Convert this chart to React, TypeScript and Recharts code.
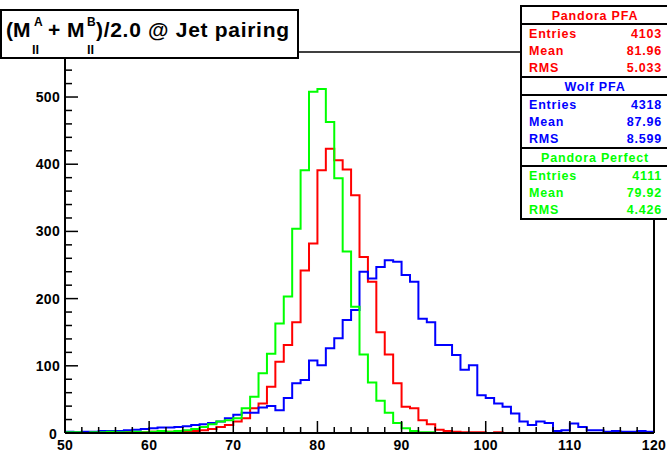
import React from "react"
import { LineChart, Line, XAxis, YAxis, ReferenceLine } from "recharts"

// bin edges of the histogram (1 GeV bins, 50 - 120)
const binEdges = [
  50, 51, 52, 53, 54, 55, 56, 57, 58, 59,
  60, 61, 62, 63, 64, 65, 66, 67, 68, 69,
  70, 71, 72, 73, 74, 75, 76, 77, 78, 79,
  80, 81, 82, 83, 84, 85, 86, 87, 88, 89,
  90, 91, 92, 93, 94, 95, 96, 97, 98, 99,
  100, 101, 102, 103, 104, 105, 106, 107, 108, 109,
  110, 111, 112, 113, 114, 115, 116, 117, 118, 119, 120,
]

// counts per bin
const pandoraPFA = [
  1, 0, 1, 1, 1, 0, 1, 2, 1, 1,
  2, 1, 2, 2, 2, 3, 4, 6, 9, 12,
  17, 22, 37, 44, 69, 106, 131, 165, 242, 282,
  391, 423, 406, 392, 354, 262, 225, 150, 117, 74,
  39, 37, 19, 13, 5, 3, 2, 1, 1, 1,
  0, 1, 0, 0, 0, 0, 0, 0, 0, 0,
  0, 0, 0, 0, 0, 0, 0, 0, 0, 0,
]

const wolfPFA = [
  2, 1, 2, 2, 3, 3, 3, 4, 5, 6,
  7, 8, 8, 9, 10, 12, 13, 15, 17, 22,
  27, 30, 30, 38, 40, 34, 52, 74, 79, 108,
  101, 126, 141, 168, 183, 240, 230, 247, 257, 255,
  235, 225, 170, 165, 131, 131, 116, 94, 101, 56,
  52, 44, 39, 29, 17, 12, 17, 15, 3, 4,
  14, 9, 4, 4, 2, 3, 2, 2, 3, 2,
]

const pandoraPerfect = [
  1, 1, 0, 1, 1, 2, 1, 1, 2, 1,
  2, 3, 2, 3, 4, 6, 9, 13, 17, 19,
  22, 37, 54, 89, 118, 163, 203, 304, 391, 508,
  512, 463, 379, 270, 188, 117, 75, 48, 30, 15,
  7, 3, 1, 1, 0, 0, 0, 0, 0, 0,
  0, 0, 0, 0, 0, 0, 0, 0, 0, 0,
  0, 0, 0, 0, 0, 0, 0, 0, 0, 0,
]

const xTicks = [
  50, 52, 54, 56, 58, 60, 62, 64, 66, 68, 70, 72, 74, 76, 78, 80, 82, 84, 86, 88,
  90, 92, 94, 96, 98, 100, 102, 104, 106, 108, 110, 112, 114, 116, 118, 120,
]
const yTicks = [
  0, 20, 40, 60, 80, 100, 120, 140, 160, 180, 200, 220, 240, 260, 280, 300,
  320, 340, 360, 380, 400, 420, 440, 460, 480, 500, 520, 540, 560,
]

// stats boxes
const statTitles = ["Pandora PFA", "Wolf PFA", "Pandora Perfect"]
const statColors = ["#ff0000", "#0000ff", "#00ff00"]
const statEntries = ["4103", "4318", "4111"]
const statMeans = ["81.96", "87.96", "79.92"]
const statRMS = ["5.033", "8.599", "4.426"]

const data = binEdges.map((edge, i) => {
  const k = Math.min(i, pandoraPFA.length - 1)
  return { x: edge, red: pandoraPFA[k], blue: wolfPFA[k], green: pandoraPerfect[k] }
})

const FONT = "'Liberation Sans', Arial, sans-serif"

const XTick = (props: any) => {
  const { x, y, payload } = props
  const major = payload.value % 10 === 0
  return (
    <g>
      <line x1={x} x2={x} y1={y} y2={y - (major ? 12 : 6)} stroke="#000" strokeWidth={1.5} />
      {major && (
        <text x={x} y={y + 17} textAnchor="middle" fontFamily={FONT} fontWeight="bold" fontSize={14} fill="#000" letterSpacing={0.3}>
          {payload.value}
        </text>
      )}
    </g>
  )
}

const YTick = (props: any) => {
  const { x, y, payload } = props
  const major = payload.value % 100 === 0
  const zero = payload.value === 0
  return (
    <g>
      <line x1={x} x2={x + (major ? 13 : 7)} y1={y} y2={y} stroke="#000" strokeWidth={1.5} />
      {major && (
        <text x={zero ? x - 8 : x - 5} y={zero ? y + 1 : y} textAnchor="end" dominantBaseline="central" fontFamily={FONT} fontWeight="bold" fontSize={14} fill="#000" letterSpacing={0.3}>
          {payload.value}
        </text>
      )}
    </g>
  )
}

function Title() {
  return (
    <g fontFamily={FONT} fontWeight="bold" fill="#000">
      <rect x={1} y={10} width={297} height={48} fill="#fff" stroke="#000" strokeWidth={2} />
      <text x={6} y={37} fontSize={21}>(M</text>
      <text x={34} y={26} fontSize={12}>A</text>
      <text x={32} y={54} fontSize={13}>ll</text>
      <text x={48} y={37} fontSize={21}>+</text>
      <text x={67} y={37} fontSize={21}>M</text>
      <text x={87} y={26} fontSize={12}>B</text>
      <text x={87} y={54} fontSize={13}>ll</text>
      <text x={96} y={37} fontSize={21} textLength={193} lengthAdjust="spacing">)/2.0 @ Jet pairing</text>
    </g>
  )
}

function Stats() {
  const left = 521
  const top = 6
  const sec = 71
  return (
    <g fontFamily={FONT} fontWeight="bold" fontSize={12.5}>
      <rect x={left} y={top} width={148} height={sec * 3} fill="#fff" stroke="#000" strokeWidth={2} />
      {statTitles.map((t, k) => {
        const y0 = top + sec * k
        const c = statColors[k]
        const rows = [["Entries", statEntries[k]], ["Mean", statMeans[k]], ["RMS", statRMS[k]]]
        return (
          <g key={t}>
            {k > 0 && <line x1={left} x2={667} y1={y0} y2={y0} stroke="#000" strokeWidth={2} />}
            <line x1={left} x2={667} y1={y0 + 18} y2={y0 + 18} stroke="#000" strokeWidth={2} />
            <text x={595} y={y0 + 10} textAnchor="middle" dominantBaseline="central" fill={c} letterSpacing={0.8}>{t}</text>
            {rows.map((r, j) => (
              <g key={r[0]}>
                <text x={529} y={y0 + 28 + j * 17} dominantBaseline="central" fill={c} letterSpacing={0.8}>{r[0]}</text>
                <text x={662} y={y0 + 28 + j * 17} textAnchor="end" dominantBaseline="central" fill={c} letterSpacing={0.8}>{r[1]}</text>
              </g>
            ))}
          </g>
        )
      })}
    </g>
  )
}

export default function App() {
  return (
    <div style={{ position: "absolute", left: 0, top: 0, width: 667, height: 453, background: "#fff" }}>
      <LineChart width={667} height={453} data={data} margin={{ top: 52, right: 13, left: 0, bottom: 0 }}>
        <XAxis
          dataKey="x"
          type="number"
          domain={[50, 120]}
          ticks={xTicks}
          interval={0}
          height={20}
          tickSize={0}
          tickMargin={0}
          tick={<XTick />}
          axisLine={{ stroke: "#000", strokeWidth: 2 }}
        />
        <YAxis
          type="number"
          domain={[0, 567]}
          ticks={yTicks}
          interval={0}
          width={65}
          tickSize={0}
          tickMargin={0}
          tick={<YTick />}
          allowDataOverflow
          axisLine={{ stroke: "#000", strokeWidth: 2 }}
        />
        <ReferenceLine x={120} stroke="#000" strokeWidth={2} />
        <ReferenceLine y={567} stroke="#000" strokeWidth={1.5} />
        <Line dataKey="red" type="stepAfter" stroke="#ff0000" strokeWidth={2} dot={false} isAnimationActive={false} />
        <Line dataKey="blue" type="stepAfter" stroke="#0000ff" strokeWidth={2} dot={false} isAnimationActive={false} />
        <Line dataKey="green" type="stepAfter" stroke="#00ff00" strokeWidth={2} dot={false} isAnimationActive={false} />
      </LineChart>
      <svg width={667} height={453} style={{ position: "absolute", left: 0, top: 0, pointerEvents: "none" }}>
        <Title />
        <Stats />
      </svg>
    </div>
  )
}
